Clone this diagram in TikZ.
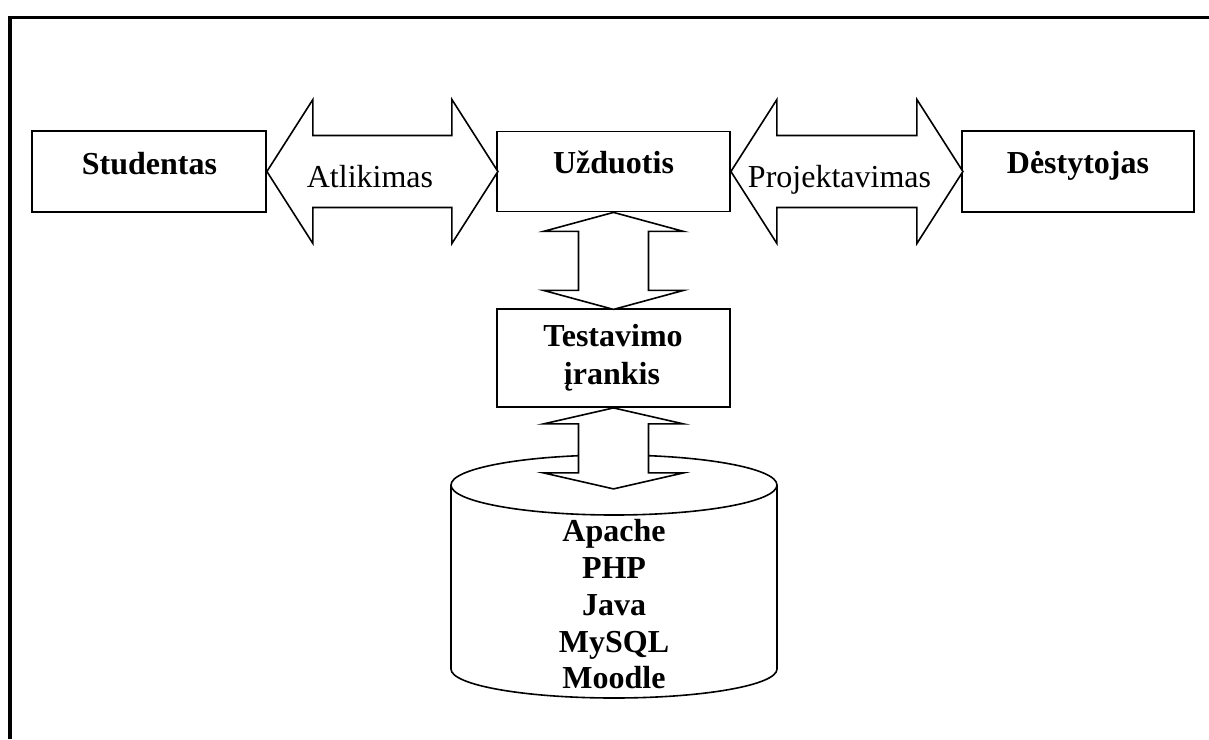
\documentclass[tikz,border=0pt]{standalone}
\usepackage{fontspec}
\setmainfont{Liberation Serif}
\begin{document}
\begin{tikzpicture}[x=1pt,y=-1pt,
  box/.style={draw,line width=1.8pt,rectangle,inner sep=0pt},
  fat/.style={draw,line width=1.6pt,fill=white,line join=miter},
  bt/.style={anchor=base,inner sep=0pt,font=\fontsize{32}{38}\selectfont\bfseries},
  rt/.style={anchor=base,inner sep=0pt,font=\fontsize{32}{38}\selectfont}]
\useasboundingbox (0,0) rectangle (1209,739);
% frame
\draw[line width=3.6pt] (10,739) -- (10,17.5) -- (1209,17.5);
% boxes
\node[box,minimum width=234pt,minimum height=81pt] (stud) at (149,171.5) {};
\node[box,minimum width=233pt,minimum height=80pt] (uzd) at (613.5,171.5) {};
\node[box,minimum width=232pt,minimum height=81pt] (dest) at (1078,171.5) {};
\node[box,minimum width=233pt,minimum height=98pt] (test) at (613.5,358) {};
% horizontal double arrows
\draw[fat] (stud.east) --++(46,-72) --++(0,36) --++(139,0) --++(0,-36) --++(46,72) --++(-46,72) --++(0,-36) --++(-139,0) --++(0,36) -- cycle;
\draw[fat] (uzd.east) --++(46,-72) --++(0,36) --++(140,0) --++(0,-36) --++(46,72) --++(-46,72) --++(0,-36) --++(-140,0) --++(0,36) -- cycle;
% vertical arrow 1
\draw[fat] (uzd.south) --++(70,19) --++(-35,0) --++(0,59) --++(35,0) --++(-70,19) --++(-70,-19) --++(35,0) --++(0,-59) --++(-35,0) -- cycle;
% cylinder
\coordinate (dbtop) at (614,485);
\draw[line width=1.6pt] (451,485) -- (451,669) arc[start angle=180,end angle=0,x radius=163,y radius=29] -- (777,485);
\draw[line width=1.6pt] (dbtop) ellipse[x radius=163,y radius=30];
% vertical arrow 2
\draw[fat] (test.south) --++(70,16) --++(-35,0) --++(0,49) --++(35,0) --++(-70,16) --++(-70,-16) --++(35,0) --++(0,-49) --++(-35,0) -- cycle;
% texts
\node[bt] (tstud) at (149.5,174) {Studentas};
\node[bt] (tuzd) at (613.5,173) {Užduotis};
\node[bt] (tdest) at (1078,173) {Dėstytojas};
\node[rt] (tatl) at (370,187) {Atlikimas};
\node[rt] (tproj) at (839.5,187) {Projektavimas};
\node[bt] (ttest1) at (613,346) {Testavimo};
\node[bt] (ttest2) at (612,384) {įrankis};
\node[bt] (d1) at (614,541) {Apache};
\node[bt] (d2) at (614,578) {PHP};
\node[bt] (d3) at (614,615) {Java};
\node[bt] (d4) at (614,652) {MySQL};
\node[bt] (d5) at (614,688) {Moodle};
\end{tikzpicture}
\end{document}
